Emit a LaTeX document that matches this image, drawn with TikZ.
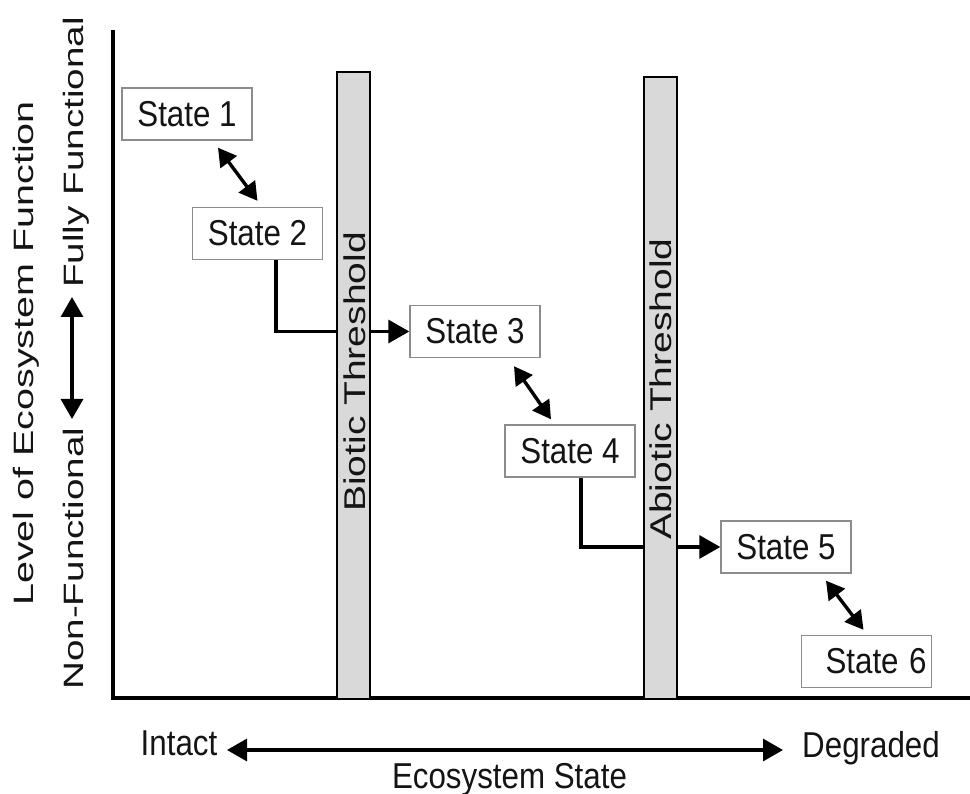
\documentclass[tikz,border=0pt]{standalone}
\usepackage{fontspec}
\setmainfont{Liberation Sans}
\usepackage{graphicx}
\usetikzlibrary{arrows.meta,calc}
\newcommand\hstr[1]{\scalebox{0.87}[1]{#1}}
\newcommand\vstr[1]{\scalebox{1.38}[1]{#1}}
\newcommand\tstr[1]{\scalebox{1.3}[1]{#1}}
\begin{document}
\begin{tikzpicture}[x=1pt,y=-1pt,
  statebox/.style={draw=black!45,line width=1.4pt,fill=white,minimum width=130pt,minimum height=52pt,inner sep=0pt,font=\fontsize{36}{40}\selectfont,text=black!92},
  barbox/.style={draw=black,line width=2pt,fill=black!15,inner sep=0pt,minimum width=33pt},
  htext/.style={font=\fontsize{36}{40}\selectfont,inner sep=0pt,text=black!92},
  vtext/.style={font=\fontsize{28}{32}\selectfont,inner sep=0pt,rotate=90,anchor=base west,text=black!92},
  ttext/.style={font=\fontsize{30}{34}\selectfont,inner sep=0pt,rotate=90,anchor=base west,text=black!92},
  axisline/.style={line width=4pt,line cap=rect},
  elbow/.style={line width=3.4pt,-{Triangle[length=21pt,width=23pt]}},
  dbl/.style={line width=3.4pt,{Triangle[length=18pt,width=20pt]}-{Triangle[length=18pt,width=20pt]}},
  scalearrow/.style={line width=3.4pt,{Triangle[length=20pt,width=22pt]}-{Triangle[length=20pt,width=22pt]}}
]
\fill[white] (0,0) rectangle (970,794);
\useasboundingbox (0,0) rectangle (970,794);

% axes
\coordinate (ytop) at (113,32);
\coordinate (origin) at (113,698);
\coordinate (xend) at (972,698);
\draw[axisline] (ytop) -- (origin) -- (xend);

% states
\node[statebox] (s1) at (187,114) {\hstr{State 1}};
\node[statebox] (s2) at (257.5,233.5) {\hstr{State 2}};
\node[statebox] (s3) at (475,331.5) {\hstr{State 3}};
\node[statebox] (s4) at (570,451) {\hstr{State 4}};
\node[statebox] (s5) at (786,547) {\hstr{State 5}};
\node[statebox,text width=120pt,align=right] (s6) at (866.5,661.5) {\hstr{State 6}};

% elbow connectors (behind bars)
\draw[elbow] ([xshift=18.5pt]s2.south) |- (s3.west);
\draw[elbow] ([xshift=11pt]s4.south) |- (s5.west);

% threshold bars
\node[barbox,minimum height=627pt,anchor=north] (bio) at (353.5,71) {};
\node[barbox,minimum height=622pt,anchor=north] (abio) at (660,76) {};
\node[ttext] (biot) at (365,512) {\tstr{Biotic Threshold}};
\node[ttext] (abiot) at (671.5,540) {\tstr{Abiotic Threshold}};

% double arrows between states
\draw[dbl] ([xshift=31pt,yshift=-7pt]s1.south) -- ([yshift=6pt]s2.north);
\draw[dbl] ([xshift=39pt,yshift=-8pt]s3.south) -- ([xshift=-19pt,yshift=5pt]s4.north);
\draw[dbl] ([xshift=40pt,yshift=-7pt]s5.south) -- ([xshift=-3pt,yshift=5pt]s6.north);

% y-axis labels
\node[vtext] (ylab) at (33,606) {\scalebox{1.41}[1]{Level of Ecosystem Function}};
\node[vtext] (nonf) at (83,690) {\vstr{Non-Functional}};
\node[vtext] (fullf) at (83,288) {\vstr{Fully Functional}};
\coordinate (yarrtop) at (72,297);
\coordinate (yarrbot) at (72,419);
\draw[scalearrow] (yarrbot) -- (yarrtop);

% x-axis labels
\node[htext,anchor=base] (intact) at (179,755) {\hstr{Intact}};
\node[htext,anchor=base] (degr) at (871,757) {\hstr{Degraded}};
\node[htext,anchor=base] (ecos) at (509.5,788) {\hstr{Ecosystem State}};
\coordinate (xarrl) at (227,750);
\coordinate (xarrr) at (783,750);
\draw[scalearrow] (xarrl) -- (xarrr);
\end{tikzpicture}
\end{document}
